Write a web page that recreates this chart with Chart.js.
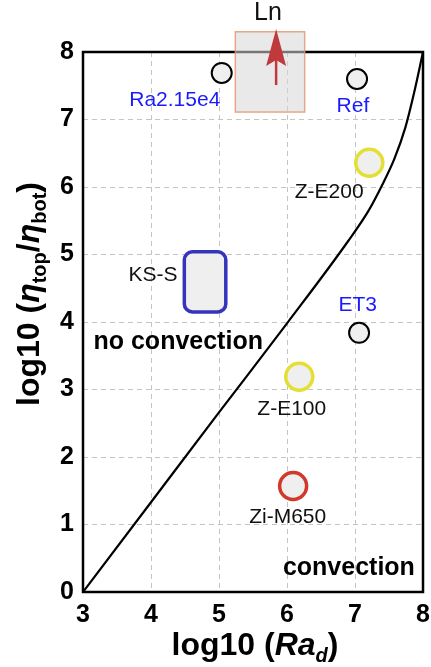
<!DOCTYPE html>
<html>
<head>
<meta charset="utf-8">
<script src="https://cdn.jsdelivr.net/npm/chart.js@4"></script>
<style>
  body { margin: 0; background: #fff; }
  canvas { display: block; }
</style>
</head>
<body>
<canvas id="regime" width="431" height="667"></canvas>
<script>
// regime boundary (log10 Ra_d vs log10 viscosity contrast)
const boundaryRa = [3, 4, 5, 6, 6.9, 7.2, 7.4, 7.58, 7.74, 7.87, 8];
const boundaryEta = [0, 1.33, 2.66, 3.98, 5.2, 5.65, 6.03, 6.42, 6.88, 7.4, 8];

// model runs, grouped by marker colour
const blackNames = ['Ra2.15e4', 'Ref', 'ET3'];
const blackRa = [5.04, 7.03, 7.06];
const blackEta = [7.69, 7.60, 3.84];

const yellowNames = ['Z-E200', 'Z-E100'];
const yellowRa = [7.21, 6.18];
const yellowEta = [6.36, 3.19];

const redNames = ['Zi-M650'];
const redRa = [6.09];
const redEta = [1.57];

// ranges shown as boxes: [raMin, raMax, etaMin, etaMax]
const ksRange = [4.49, 5.10, 4.15, 5.04];
const lnRange = [5.24, 6.26, 7.11, 8.30];
const lnArrow = [5.84, 7.51, 8.34]; // ra, eta start, eta tip

const xTicks = [3, 4, 5, 6, 7, 8];
const yTicks = [0, 1, 2, 3, 4, 5, 6, 7, 8];

// text labels: [text, ra, eta, colour, size, bold]
const labels = [
    ['Ra2.15e4', 4.35, 7.29, '#1a1aff', 21, false],
    ['Ref', 6.97, 7.19, '#1a1aff', 21, false],
    ['Z-E200', 6.62, 5.93, '#111', 21, false],
    ['KS-S', 4.03, 4.70, '#111', 21, false],
    ['ET3', 7.04, 4.25, '#1a1aff', 21, false],
    ['no convection', 4.40, 3.70, '#000', 25, true],
    ['Z-E100', 6.07, 2.71, '#111', 21, false],
    ['Zi-M650', 6.01, 1.11, '#111', 21, false],
    ['convection', 6.91, 0.36, '#000', 25, true],
    ['Ln', 5.72, 8.58, '#111', 25, false]
];

const FONT = '"Liberation Sans", Arial, sans-serif';

function pts(xs, ys) {
    return xs.map((x, i) => ({ x: x, y: ys[i] }));
}

// draws a row of text pieces with different fonts, centred on x
function drawRich(ctx, parts, x, y) {
    let total = 0;
    parts.forEach(p => { ctx.font = p.font; total += ctx.measureText(p.t).width; });
    let cx = x - total / 2;
    ctx.textAlign = 'left';
    ctx.textBaseline = 'alphabetic';
    parts.forEach(p => {
        ctx.font = p.font;
        ctx.fillText(p.t, cx, y + (p.dy || 0));
        cx += ctx.measureText(p.t).width;
    });
}

const extras = {
    id: 'extras',
    afterDatasetsDraw(chart) {
        const ctx = chart.ctx;
        const xs = chart.scales.x, ys = chart.scales.y;
        const a = chart.chartArea;
        ctx.save();

        // frame
        ctx.strokeStyle = '#000';
        ctx.lineWidth = 2.5;
        ctx.strokeRect(a.left, a.top, a.right - a.left, a.bottom - a.top);

        // KS-S box
        let x0 = xs.getPixelForValue(ksRange[0]), x1 = xs.getPixelForValue(ksRange[1]);
        let y0 = ys.getPixelForValue(ksRange[3]), y1 = ys.getPixelForValue(ksRange[2]);
        ctx.beginPath();
        ctx.roundRect(x0, y0, x1 - x0, y1 - y0, 8);
        ctx.fillStyle = '#efefef';
        ctx.fill();
        ctx.strokeStyle = '#3434bd';
        ctx.lineWidth = 3.5;
        ctx.stroke();

        // Ln box
        x0 = xs.getPixelForValue(lnRange[0]); x1 = xs.getPixelForValue(lnRange[1]);
        y0 = ys.getPixelForValue(lnRange[3]); y1 = ys.getPixelForValue(lnRange[2]);
        ctx.fillStyle = 'rgba(215,215,215,0.55)';
        ctx.fillRect(x0, y0, x1 - x0, y1 - y0);
        ctx.strokeStyle = 'rgba(225,150,110,0.8)';
        ctx.lineWidth = 1.5;
        ctx.strokeRect(x0, y0, x1 - x0, y1 - y0);

        // arrow
        const ax = xs.getPixelForValue(lnArrow[0]);
        const aStart = ys.getPixelForValue(lnArrow[1]);
        const aTip = ys.getPixelForValue(lnArrow[2]);
        ctx.strokeStyle = '#c03a3c';
        ctx.fillStyle = '#c03a3c';
        ctx.lineWidth = 2.5;
        ctx.beginPath();
        ctx.moveTo(ax, aStart);
        ctx.lineTo(ax, aTip + 20);
        ctx.stroke();
        ctx.beginPath();
        ctx.moveTo(ax, aTip);
        ctx.lineTo(ax + 10, aTip + 37);
        ctx.lineTo(ax, aTip + 31);
        ctx.lineTo(ax - 10, aTip + 37);
        ctx.closePath();
        ctx.fill();

        // labels
        ctx.textAlign = 'center';
        ctx.textBaseline = 'middle';
        labels.forEach(l => {
            ctx.font = (l[5] ? 'bold ' : '') + l[4] + 'px ' + FONT;
            ctx.fillStyle = l[3];
            ctx.fillText(l[0], xs.getPixelForValue(l[1]), ys.getPixelForValue(l[2]));
        });

        // axis titles
        ctx.fillStyle = '#000';
        const big = 'bold 32px ' + FONT;
        const bigIt = 'italic bold 32px ' + FONT;
        const sub = 'bold 20px ' + FONT;
        const subIt = 'italic bold 20px ' + FONT;
        drawRich(ctx, [
            { t: 'log10 (', font: big },
            { t: 'Ra', font: bigIt },
            { t: 'd', font: subIt, dy: 7 },
            { t: ')', font: big }
        ], 255, 655);

        ctx.translate(39, 294);
        ctx.rotate(-Math.PI / 2);
        drawRich(ctx, [
            { t: 'log10 (', font: big },
            { t: 'η', font: bigIt },
            { t: 'top', font: sub, dy: 7 },
            { t: '/', font: big },
            { t: 'η', font: bigIt },
            { t: 'bot', font: sub, dy: 7 },
            { t: ')', font: big }
        ], 0, 0);
        ctx.restore();
    }
};

const circle = (color, r, bw) => ({
    pointRadius: r,
    pointHoverRadius: r,
    pointBackgroundColor: '#efefef',
    pointBorderColor: color,
    pointBorderWidth: bw,
    showLine: false
});

const noEdgePad = s => {
    s.paddingLeft = 0; s.paddingRight = 0;
    s.paddingTop = 0; s.paddingBottom = 0;
};

new Chart(document.getElementById('regime'), {
    type: 'scatter',
    data: {
        datasets: [
            {
                label: 'boundary',
                data: pts(boundaryRa, boundaryEta),
                showLine: true,
                borderColor: '#000',
                borderWidth: 2.2,
                pointRadius: 0,
                cubicInterpolationMode: 'monotone'
            },
            Object.assign({ label: 'black', data: pts(blackRa, blackEta) }, circle('#000', 10, 2)),
            Object.assign({ label: 'yellow', data: pts(yellowRa, yellowEta) }, circle('#e3df35', 13.5, 3.5)),
            Object.assign({ label: 'red', data: pts(redRa, redEta) }, circle('#d2382b', 13.5, 3.5))
        ]
    },
    options: {
        responsive: false,
        animation: false,
        events: [],
        layout: { autoPadding: false, padding: { top: 52, right: 8, left: 0, bottom: 0 } },
        plugins: { legend: { display: false }, tooltip: { enabled: false } },
        scales: {
            x: {
                type: 'linear', min: 3, max: 8,
                afterFit: s => { s.height = 75; noEdgePad(s); },
                afterBuildTicks: s => { s.ticks = xTicks.map(v => ({ value: v })); },
                grid: { color: '#c4c4c4', lineWidth: 1, drawTicks: false },
                border: { display: false, dash: [5, 4] },
                ticks: { color: '#000', padding: 8, font: { family: FONT, size: 25, weight: 'bold' } }
            },
            y: {
                type: 'linear', min: 0, max: 8,
                afterFit: s => { s.width = 83; noEdgePad(s); },
                afterBuildTicks: s => { s.ticks = yTicks.map(v => ({ value: v })); },
                grid: { color: '#c4c4c4', lineWidth: 1, drawTicks: false },
                border: { display: false, dash: [5, 4] },
                ticks: { color: '#000', padding: 9, font: { family: FONT, size: 25, weight: 'bold' } }
            }
        }
    },
    plugins: [extras]
});
</script>
</body>
</html>
